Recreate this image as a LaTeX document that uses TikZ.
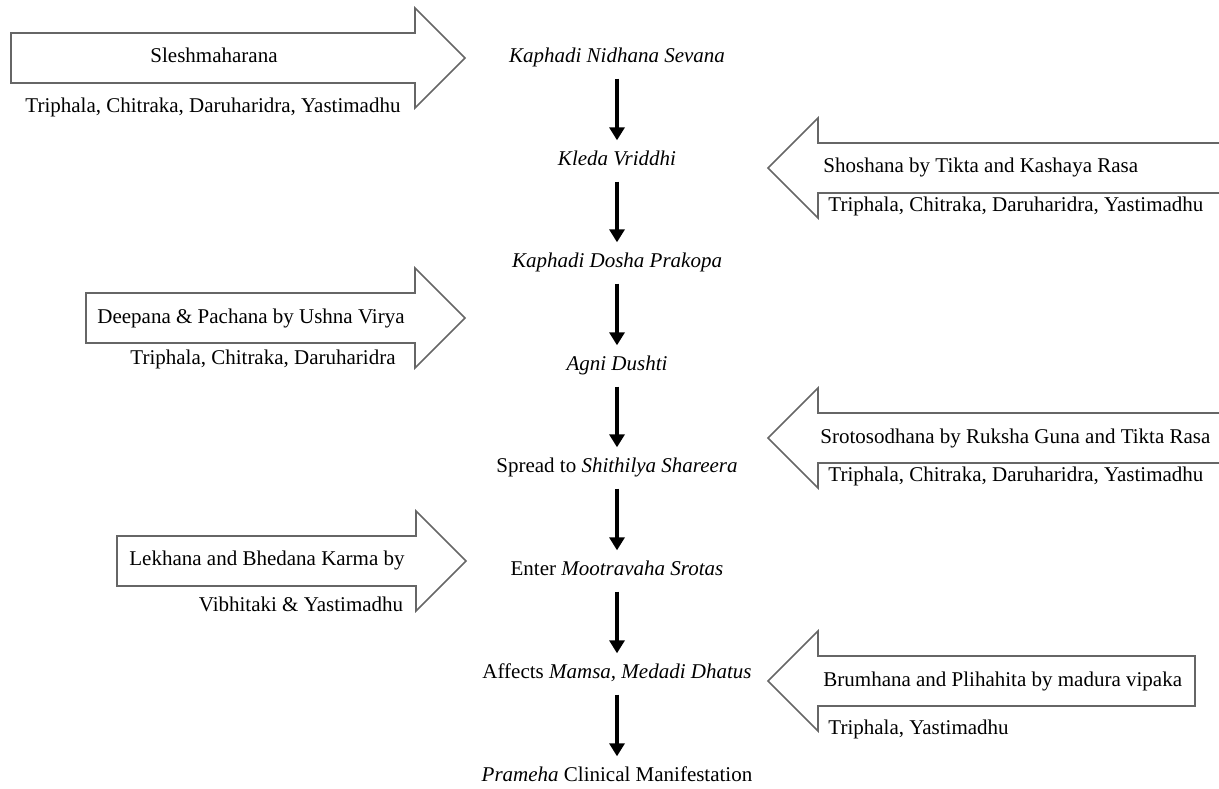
\documentclass[tikz,border=0pt]{standalone}
\usepackage{fontspec}
\setmainfont{Liberation Serif}
\usetikzlibrary{arrows.meta}
\tikzstyle{stage} = [inner sep=0pt, text height=7pt, text depth=2.3pt, font=\fontsize{10.5}{12}\selectfont]
\tikzstyle{remedy} = [stage]
\tikzstyle{flow} = [-{Triangle[length=6.5pt,width=7.5pt]}, line width=1.7pt, shorten <=5.5pt, shorten >=5.5pt]
\tikzstyle{blockarrow} = [draw=black!60, line width=0.8pt, line join=miter]
% block arrow pointing right: left end, head base, centre y
\newcommand{\rightblock}[3]{\draw[blockarrow] (#1,#3-25) -- (#2,#3-25) -- (#2,#3-50) -- (#2+50,#3) -- (#2,#3+50) -- (#2,#3+25) -- (#1,#3+25) -- cycle;}
% block arrow pointing left: tip, right end, centre y, closing
\newcommand{\leftblock}[4]{\draw[blockarrow] (#2,#3-25) -- (#1+50,#3-25) -- (#1+50,#3-50) -- (#1,#3) -- (#1+50,#3+50) -- (#1+50,#3+25) -- (#2,#3+25) #4;}

\begin{document}
\begin{tikzpicture}[x=0.5pt,y=-0.5pt]
  \useasboundingbox (0,0) rectangle (1219,788);
  % pathway
  \node[stage](0) at (617,58){\textit{Kaphadi Nidhana Sevana}};
  \node[stage](1) at (617,161){\textit{Kleda Vriddhi}};
  \node[stage](2) at (617,263){\textit{Kaphadi Dosha Prakopa}};
  \node[stage](3) at (617,366){\textit{Agni Dushti}};
  \node[stage](4) at (617,468){Spread to \textit{Shithilya Shareera}};
  \node[stage](5) at (617,571){Enter \textit{Mootravaha Srotas}};
  \node[stage](6) at (617,674){Affects \textit{Mamsa, Medadi Dhatus}};
  \node[stage](7) at (617,777){\textit{Prameha} Clinical Manifestation};
  \foreach \i [evaluate=\i as \j using int(\i+1)] in {0,...,6}
    \draw[flow](\i)--(\j);
  % block arrows
  \rightblock{11}{415}{58}
  \rightblock{86}{415}{318}
  \rightblock{117}{416}{561}
  \leftblock{768}{1219}{168}{}
  \leftblock{768}{1219}{438}{}
  \leftblock{768}{1195}{681}{-- cycle}
  % left side
  \node[remedy](a) at (214,58){Sleshmaharana};
  \node[remedy](a1) at (213,108){Triphala, Chitraka, Daruharidra, Yastimadhu};
  \node[remedy](b) at (251,319){Deepana \& Pachana by Ushna Virya};
  \node[remedy](b1) at (263,360){Triphala, Chitraka, Daruharidra};
  \node[remedy](c) at (267,561){Lekhana and Bhedana Karma by};
  \node[remedy](c1) at (301,607){Vibhitaki \& Yastimadhu};
  % right side
  \node[remedy,anchor=west](d) at (823,168){Shoshana by Tikta and Kashaya Rasa};
  \node[remedy,anchor=west](d1) at (828,207){Triphala, Chitraka, Daruharidra, Yastimadhu};
  \node[remedy,anchor=west](e) at (820,439){Srotosodhana by Ruksha Guna and Tikta Rasa};
  \node[remedy,anchor=west](e1) at (828,477){Triphala, Chitraka, Daruharidra, Yastimadhu};
  \node[remedy,anchor=west](f) at (823,682){Brumhana and Plihahita by madura vipaka};
  \node[remedy,anchor=west](f1) at (828,730){Triphala, Yastimadhu};
\end{tikzpicture}
\end{document}
